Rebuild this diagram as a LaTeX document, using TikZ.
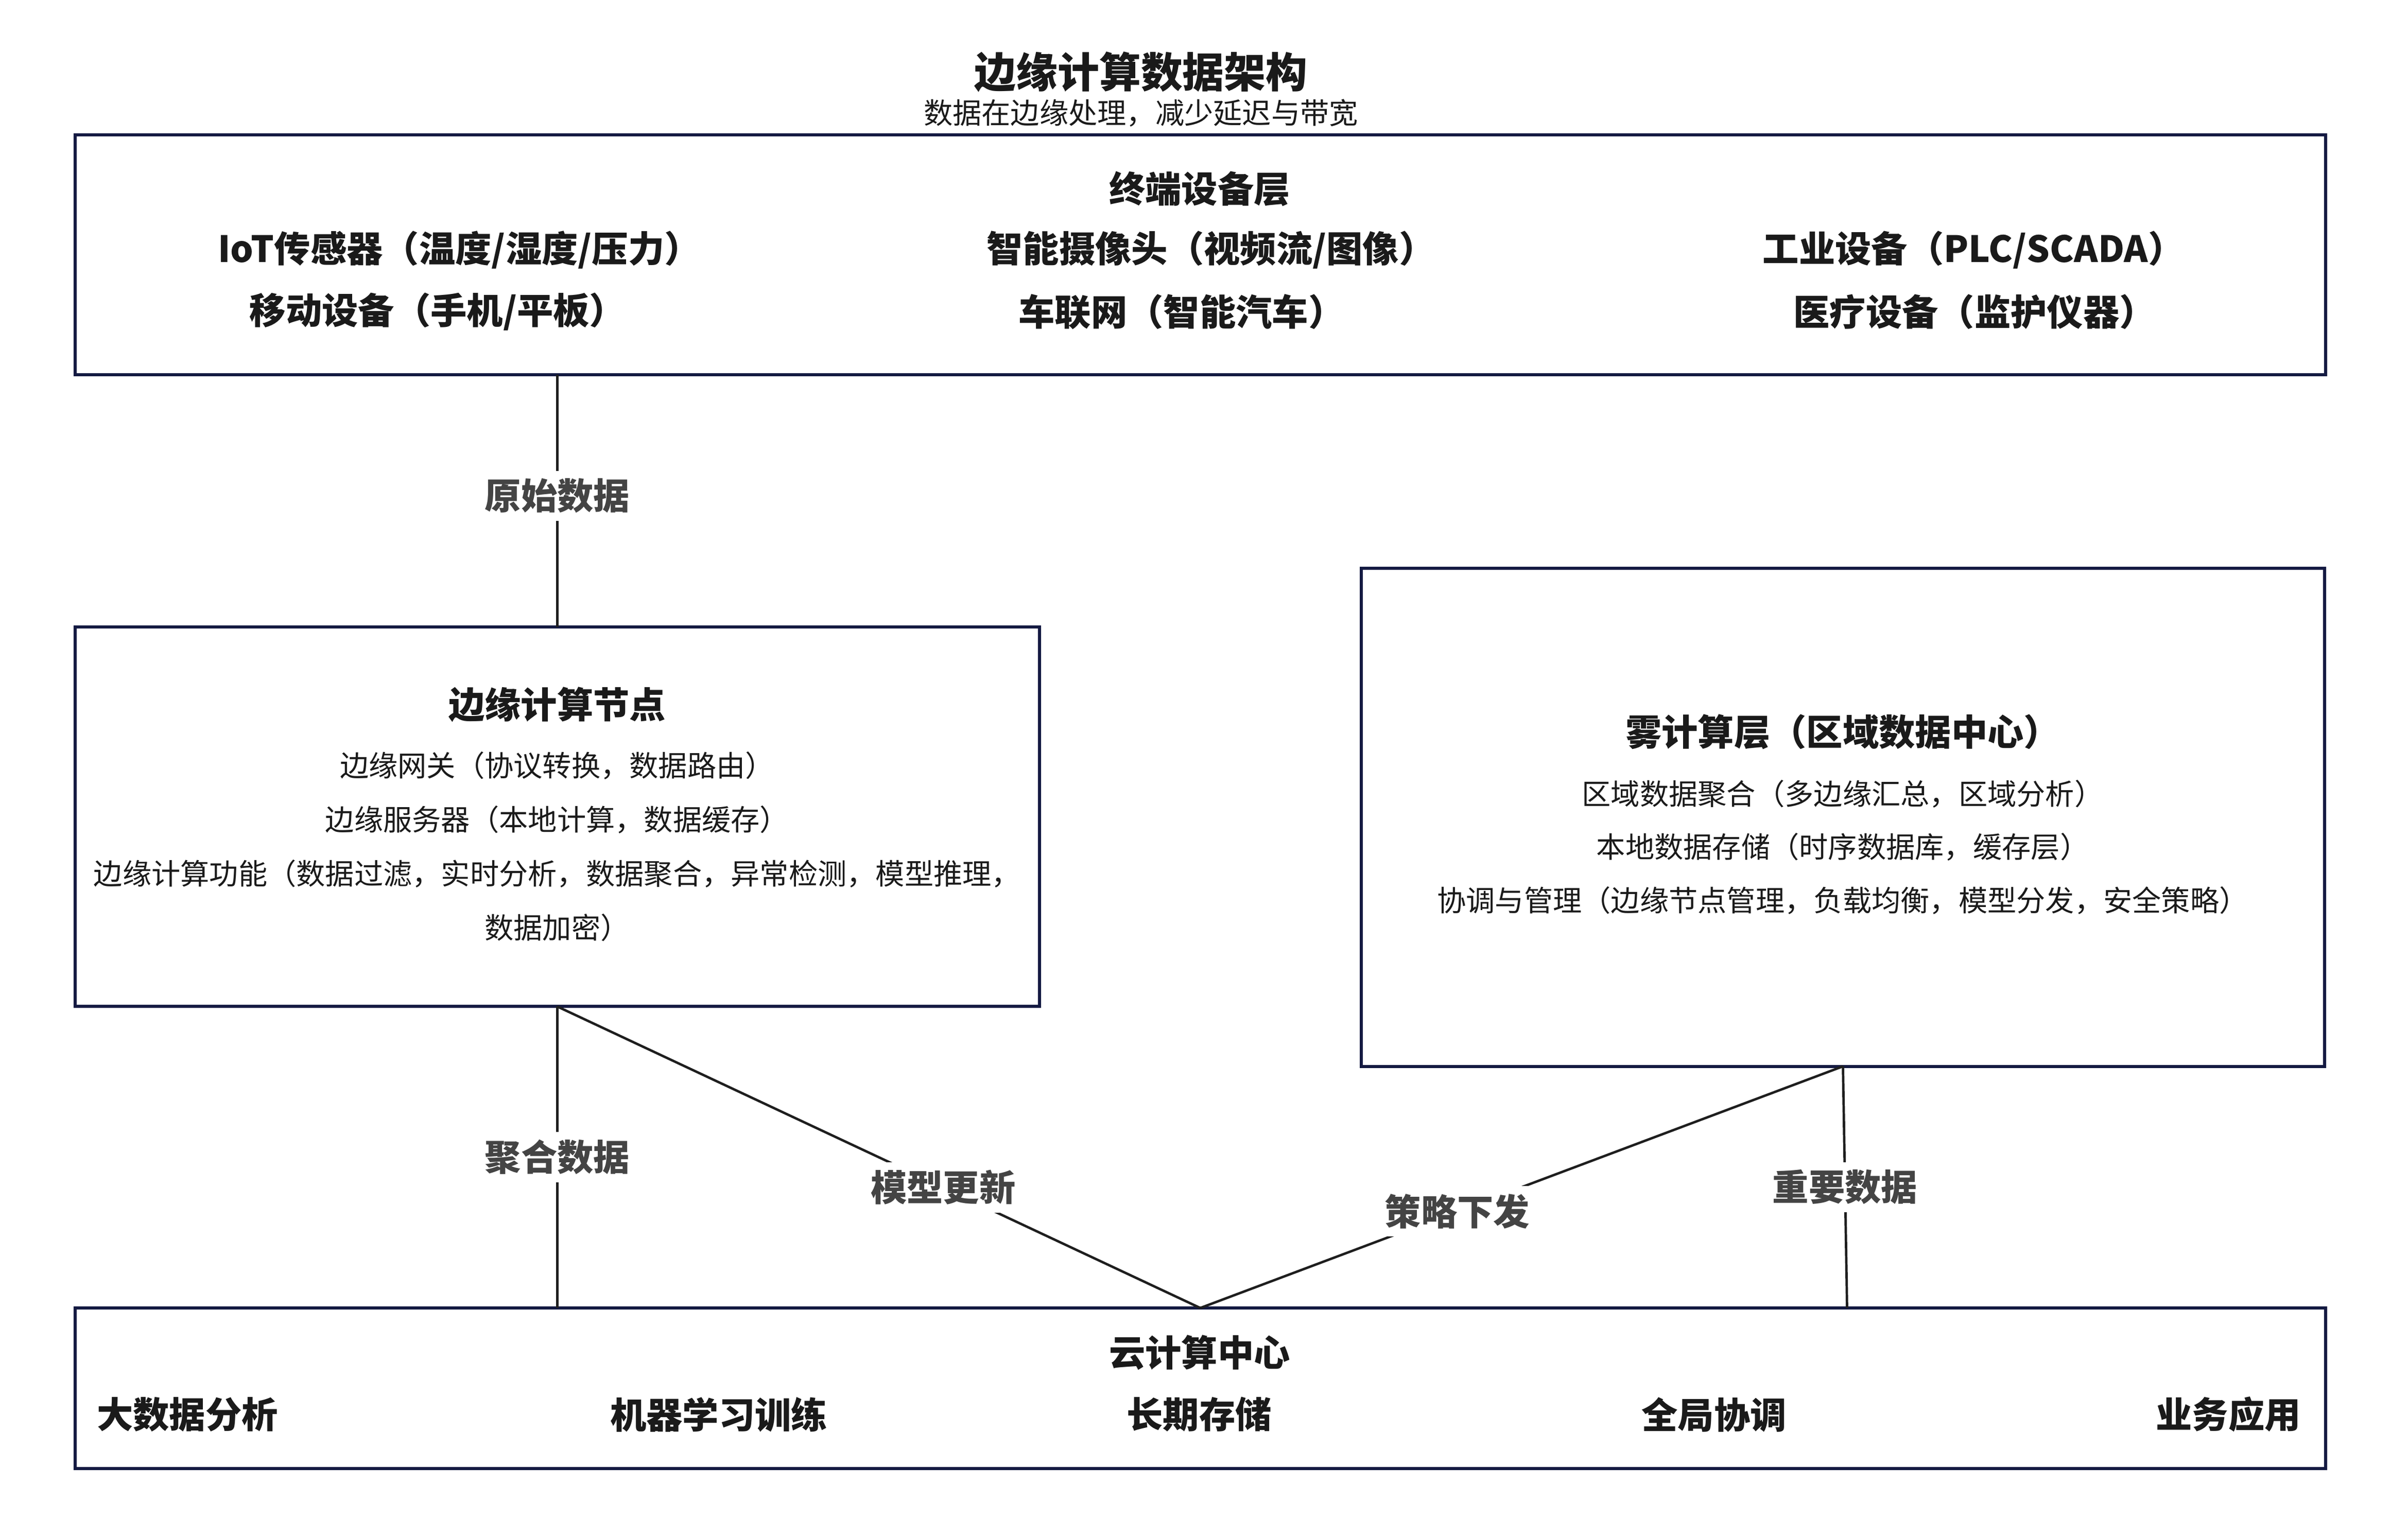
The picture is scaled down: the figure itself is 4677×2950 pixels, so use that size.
\documentclass[tikz,border=0pt]{standalone}
\usepackage{fontspec}
\setmainfont{Noto Sans CJK SC}
\definecolor{bordc}{HTML}{141A42}
\definecolor{linec}{HTML}{1E1E1E}
\definecolor{labc}{HTML}{444444}
\definecolor{txtc}{HTML}{1A1A1A}
\begin{document}
\begin{tikzpicture}[x=0.01cm,y=-0.01cm,
  box/.style={draw=bordc, line width=0.06cm, fill=white, inner sep=0, outer sep=0, anchor=north west, rectangle},
  hd/.style={font=\fontsize{20}{24}\selectfont\bfseries, text=txtc, inner sep=0},
  itm/.style={font=\fontsize{16}{19}\selectfont, text=txtc, inner sep=0},
  lab/.style={font=\fontsize{20}{24}\selectfont\bfseries, text=labc, fill=white, inner sep=0.15cm},
  conn/.style={draw=linec, line width=0.047cm}]
\useasboundingbox (0,0) rectangle (4677,2950);
\fill[white] (0,0) rectangle (4677,2950);
% title
\node[font=\fontsize{23}{28}\selectfont\bfseries, text=txtc, inner sep=0] (title) at (2216,140) {边缘计算数据架构};
\node[itm] (subtitle) at (2216,220) {数据在边缘处理，减少延迟与带宽};
% boxes
\node[box, minimum width=43.68cm, minimum height=4.66cm] (top) at (146,262) {};
\node[box, minimum width=18.72cm, minimum height=7.37cm] (edge) at (146,1218) {};
\node[box, minimum width=18.70cm, minimum height=9.67cm] (fog) at (2644,1104) {};
\node[box, minimum width=43.68cm, minimum height=3.12cm] (cloud) at (146,2541) {};
% top box content
\node[hd] (tophd) at (2330,367) {终端设备层};
\node[hd] (t1) at (892,486) {IoT传感器（温度/湿度/压力）};
\node[hd] (t2) at (2352,486) {智能摄像头（视频流/图像）};
\node[hd] (t3) at (3833,486) {工业设备（PLC/SCADA）};
\node[hd] (t4) at (850,606) {移动设备（手机/平板）};
\node[hd] (t5) at (2295,606) {车联网（智能汽车）};
\node[hd] (t6) at (3835,606) {医疗设备（监护仪器）};
% edge box content
\node[hd] (edgehd) at (1082,1369) {边缘计算节点};
\node[itm] (e1) at (1082,1487) {边缘网关（协议转换，数据路由）};
\node[itm] (e2) at (1082,1592) {边缘服务器（本地计算，数据缓存）};
\node[itm] (e3) at (1082,1697) {边缘计算功能（数据过滤，实时分析，数据聚合，异常检测，模型推理，};
\node[itm] (e4) at (1082,1802) {数据加密）};
% fog box content
\node[hd] (foghd) at (3579,1422) {雾计算层（区域数据中心）};
\node[itm] (f1) at (3579,1542) {区域数据聚合（多边缘汇总，区域分析）};
\node[itm] (f2) at (3579,1645) {本地数据存储（时序数据库，缓存层）};
\node[itm] (f3) at (3579,1749) {协调与管理（边缘节点管理，负载均衡，模型分发，安全策略）};
% cloud box content
\node[hd] (cloudhd) at (2330,2628) {云计算中心};
\node[hd] (c1) at (364,2748) {大数据分析};
\node[hd] (c2) at (1396,2748) {机器学习训练};
\node[hd] (c3) at (2329,2748) {长期存储};
\node[hd] (c4) at (3329,2748) {全局协调};
\node[hd] (c5) at (4328,2748) {业务应用};
% connectors
\draw[conn] (edge.north |- top.south) -- node[lab, pos=0.48] (l1) {原始数据} (edge.north);
\draw[conn] (edge.south) -- node[lab, pos=0.5] (l2) {聚合数据} (edge.south |- cloud.north);
\draw[conn] (edge.south) -- node[lab, pos=0.6] (l3) {模型更新} (cloud.north);
\draw[conn] (fog.south) -- node[lab, pos=0.6] (l4) {策略下发} (cloud.north);
\draw[conn] (fog.south) -- node[lab, pos=0.5] (l5) {重要数据} ([xshift=0.08cm]fog.south |- cloud.north);
\end{tikzpicture}
\end{document}
